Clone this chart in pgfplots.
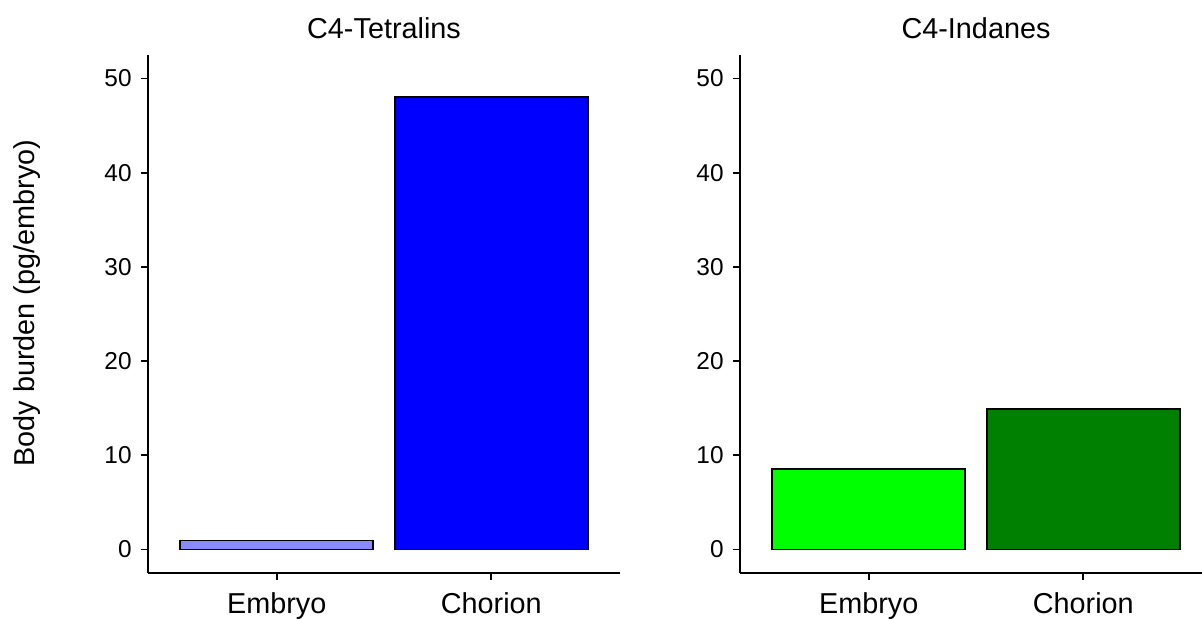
\documentclass[border=0pt]{standalone}
\usepackage{pgfplots}
\pgfplotsset{compat=1.18}
\usepackage{fontspec}
\setmainfont{Liberation Sans}

\definecolor{embA}{HTML}{8A8AFF}
\definecolor{chorA}{HTML}{0000FF}
\definecolor{embB}{HTML}{00FF00}
\definecolor{chorB}{HTML}{008000}

\pgfplotsset{
  panel/.style={
    scale only axis,
    width=236pt, height=259pt,
    xmin=0.4, xmax=2.6,
    ymin=-2.5, ymax=52.5,
    axis x line*=bottom, axis y line*=left,
    axis line style={line width=0.9pt, black},
    xtick={1,2}, xticklabels={Embryo, Chorion},
    ytick={0,10,20,30,40,50},
    tick align=outside,
    major tick length=3.5pt,
    tick style={line width=0.9pt, black},
    /pgf/number format/assume math mode=true,
    yticklabel style={font=\fontsize{12.2}{14}\selectfont, inner sep=0pt, xshift=-4.5pt},
    xticklabel style={font=\fontsize{14.4}{17}\selectfont, inner sep=0pt, yshift=-6pt, anchor=north},
    title style={font=\fontsize{14.4}{17}\selectfont, at={(rel axis cs:0.5,1)}, anchor=base, yshift=2pt},
  },
  bar/.style={ybar, bar shift=0pt, bar width=0.9, draw=black, line width=0.9pt},
}

\begin{document}
\begin{tikzpicture}
\begin{axis}[panel, at={(74pt,23pt)}, anchor=south west,
  title={C4-Tetralins}]
  \addplot[bar, fill=embA] coordinates {(1,0.96)};
  \addplot[bar, fill=chorA] coordinates {(2,48.0)};
\end{axis}
\begin{axis}[panel, at={(370pt,23pt)}, anchor=south west,
  title={C4-Indanes}]
  \addplot[bar, fill=embB] coordinates {(1,8.5)};
  \addplot[bar, fill=chorB] coordinates {(2,14.9)};
\end{axis}
% shared y axis title
\node[rotate=90, font=\fontsize{14.4}{17}\selectfont] at (13.5pt,158pt) {Body burden (pg/embryo)};
\pgfresetboundingbox
\path[use as bounding box] (0,0) rectangle (601pt,309.5pt);
\end{tikzpicture}
\end{document}
